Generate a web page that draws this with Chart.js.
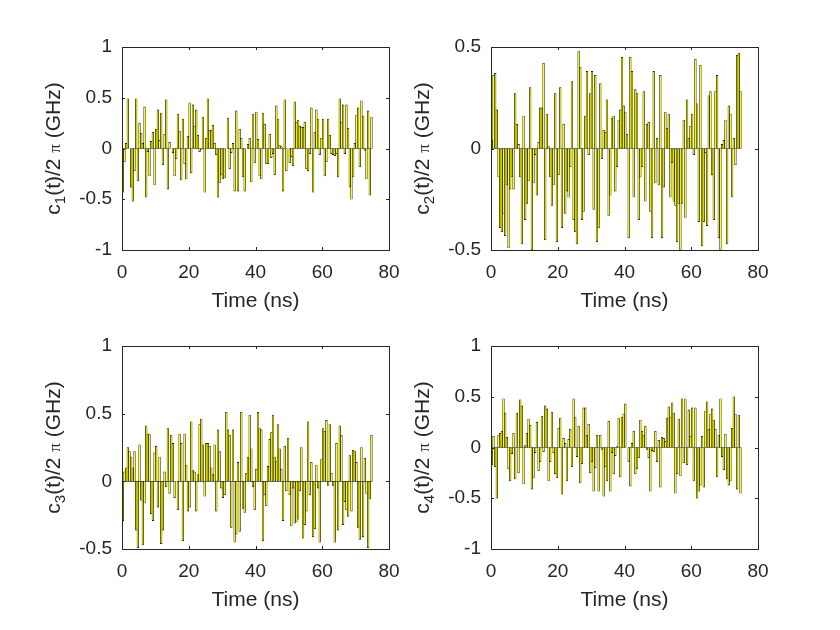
<!DOCTYPE html>
<html>
<head>
<meta charset="utf-8">
<script src="https://cdn.jsdelivr.net/npm/chart.js@4.4.0/dist/chart.umd.min.js"></script>
<style>
  html, body { margin: 0; padding: 0; background: #fff; }
  #wrap { position: relative; width: 840px; height: 630px; }
  #wrap canvas { position: absolute; left: 0; top: 0; }
</style>
</head>
<body>
<div id="wrap">
  <canvas id="c1" width="840" height="630"></canvas>
  <canvas id="c2" width="840" height="630"></canvas>
  <canvas id="c3" width="840" height="630"></canvas>
  <canvas id="c4" width="840" height="630"></canvas>
</div>
<script>
// control amplitudes c_k(t)/2pi in GHz, one value per 0.5 ns step
const dt = 0.5;
const xTicks = [0, 20, 40, 60, 80];
const yTicks1 = [-1, -0.5, 0, 0.5, 1];
const yTicks2 = [-0.5, 0, 0.5];
const yTicks3 = [-0.5, 0, 0.5, 1];
const yTicks4 = [-1, -0.5, 0, 0.5, 1];

const c1 = [
  -0.43,-0.13,0.05,0.49,0.0,-0.38,-0.52,-0.22,0.49,-0.32,
  0.25,0.15,0.05,0.41,-0.48,-0.03,-0.27,0.07,0.16,-0.36,
  0.19,0.38,0.08,0.35,-0.16,0.14,0.48,-0.4,0.06,0.0,
  -0.04,-0.27,-0.1,0.34,0.17,-0.31,0.29,-0.15,-0.3,0.12,
  0.45,-0.24,0.43,0.22,0.38,0.13,-0.03,-0.01,0.31,-0.43,
  0.1,0.49,0.18,0.18,0.23,0.05,-0.06,-0.48,-0.34,-0.26,
  -0.3,-0.29,0.0,0.3,-0.2,-0.04,0.05,-0.42,0.37,-0.42,
  0.19,0.1,-0.28,-0.42,0.0,0.04,0.1,-0.33,0.34,-0.14,
  0.36,0.09,-0.27,-0.3,0.35,0.24,-0.15,-0.15,0.14,-0.09,
  -0.05,-0.26,0.42,0.29,0.03,0.02,-0.42,0.48,-0.22,0.0,
  -0.14,-0.08,-0.17,0.46,0.26,0.28,0.22,0.21,0.21,0.26,
  -0.2,-0.22,-0.05,0.4,-0.43,0.16,0.38,0.29,-0.06,0.1,
  0.29,-0.27,-0.13,0.29,0.13,-0.05,-0.06,-0.07,-0.05,-0.28,
  0.49,0.26,0.43,-0.05,0.43,0.2,-0.38,-0.5,-0.28,0.05,
  0.33,0.4,-0.18,0.47,0.32,-0.02,-0.3,0.37,-0.46,0.31
];
const c2 = [
  0.04,0.36,0.37,0.19,-0.14,-0.39,-0.41,-0.32,-0.43,-0.18,
  -0.49,-0.2,-0.14,-0.2,0.27,0.12,0.02,-0.14,-0.47,0.16,
  -0.35,-0.27,-0.16,0.3,-0.5,-0.17,-0.03,-0.23,0.03,0.2,
  0.2,0.42,-0.45,0.17,0.01,-0.14,-0.28,-0.18,0.27,-0.46,
  -0.13,0.3,-0.39,0.12,-0.32,-0.21,-0.24,-0.09,0.33,-0.35,
  -0.41,-0.47,0.48,0.4,-0.35,-0.31,0.16,0.38,-0.03,0.27,
  0.38,-0.3,0.36,-0.46,-0.39,0.32,-0.05,0.09,0.08,0.24,
  -0.33,-0.23,0.15,0.16,-0.21,-0.09,0.14,0.19,0.45,0.21,
  0.18,0.07,-0.44,0.45,0.38,-0.24,0.29,0.27,-0.35,-0.14,
  -0.09,0.28,-0.26,0.12,0.13,-0.31,-0.44,0.38,-0.17,0.05,
  -0.18,0.36,-0.44,-0.19,0.18,0.1,0.17,-0.24,-0.07,-0.26,
  -0.28,-0.46,-0.27,-0.5,-0.27,0.14,-0.34,0.24,0.05,0.11,
  0.17,-0.03,0.44,0.22,-0.36,0.41,-0.48,-0.36,-0.02,-0.38,
  0.26,0.28,-0.13,-0.35,0.28,0.36,-0.44,-0.5,0.02,0.04,
  0.14,-0.47,0.21,0.17,-0.24,0.05,-0.08,0.46,0.47,0.28
];
const c3 = [
  -0.29,0.07,0.1,0.25,0.22,0.18,0.1,0.22,-0.36,-0.49,
  0.27,-0.14,-0.47,-0.16,0.41,0.35,0.35,-0.24,-0.29,0.21,
  0.26,-0.19,0.18,-0.46,-0.36,0.07,-0.04,0.39,-0.09,0.34,
  0.28,-0.12,0.0,-0.21,0.35,0.28,-0.44,0.35,0.12,-0.22,
  -0.19,0.44,0.08,0.07,-0.22,0.05,0.42,0.46,0.27,-0.11,
  0.28,0.28,0.26,0.1,0.05,0.27,-0.22,0.38,0.22,-0.05,
  -0.12,-0.1,0.51,0.38,0.34,-0.34,0.38,-0.45,-0.39,0.14,
  -0.37,0.51,-0.2,-0.23,0.06,0.18,0.49,0.24,-0.04,-0.21,
  0.09,0.51,0.39,0.38,-0.44,-0.1,-0.18,0.11,0.31,0.36,
  0.49,0.18,0.15,0.42,0.24,0.09,-0.29,0.26,-0.07,0.32,
  -0.1,-0.33,-0.05,-0.31,-0.3,-0.28,-0.07,0.25,-0.42,-0.32,
  -0.22,0.44,-0.1,0.14,-0.41,-0.35,0.12,-0.05,-0.45,0.16,
  0.39,0.37,0.45,-0.03,0.42,0.06,-0.03,-0.45,0.28,-0.36,
  0.41,0.34,-0.32,-0.15,-0.21,-0.26,0.19,-0.22,0.23,0.22,
  0.14,-0.34,-0.43,0.25,-0.41,0.17,-0.09,-0.49,-0.13,0.34
];
const c4 = [
  -0.17,0.11,-0.19,-0.5,0.12,0.14,0.16,0.48,0.34,0.1,
  -0.21,-0.33,-0.06,0.14,-0.31,0.34,-0.25,0.47,0.41,-0.36,
  0.02,0.14,0.28,0.22,-0.41,-0.3,-0.05,0.25,-0.23,-0.14,
  0.31,-0.04,0.41,0.38,-0.33,-0.14,0.35,-0.05,-0.26,-0.3,
  0.19,0.29,-0.46,0.09,0.04,-0.33,0.08,0.18,-0.19,0.48,
  0.3,-0.09,0.21,-0.35,-0.16,0.39,0.39,0.12,0.23,-0.25,
  -0.14,-0.43,-0.2,0.12,-0.43,0.12,-0.02,-0.48,-0.19,-0.33,
  0.26,-0.43,-0.05,-0.26,-0.08,0.01,0.29,-0.29,0.3,0.33,
  0.43,0.0,-0.14,-0.38,0.04,0.16,-0.26,-0.21,-0.1,0.27,
  0.16,0.12,0.21,-0.02,-0.1,-0.43,-0.03,-0.04,0.16,-0.14,
  0.07,-0.39,0.1,0.09,0.06,0.29,0.4,0.3,0.44,0.34,
  -0.45,-0.26,0.28,-0.28,0.48,-0.15,0.48,-0.17,0.37,0.11,
  0.39,-0.33,0.39,-0.5,-0.43,-0.37,0.11,-0.39,0.36,0.45,
  0.18,0.33,0.38,0.27,0.18,-0.29,0.12,0.48,-0.09,-0.22,
  0.13,-0.31,-0.37,-0.33,0.19,0.5,0.33,-0.41,0.32,-0.45
];
const time = c1.map((v, i) => (i + 0.5) * dt);

const SANS = "'Liberation Sans', Arial, Helvetica, sans-serif";
const SERIF = "'Liberation Serif', 'DejaVu Serif', serif";
const INK = '#262626';
const YW = 60, XH = 60;

Chart.defaults.font.family = SANS;
Chart.defaults.color = INK;

function drawYTitle(ctx, x, y, sub) {
  const parts = [
    { t: 'c', f: '21px ' + SANS, dy: 0 },
    { t: sub, f: '15px ' + SANS, dy: 5 },
    { t: '(t)/2 ', f: '21px ' + SANS, dy: 0 },
    { t: '\u03c0', f: '17px ' + SERIF, dy: 0 },
    { t: ' (GHz)', f: '21px ' + SANS, dy: 0 }
  ];
  let total = 0;
  parts.forEach(p => { ctx.font = p.f; p.w = ctx.measureText(p.t).width; total += p.w; });
  ctx.save();
  ctx.translate(x, y);
  ctx.rotate(-Math.PI / 2);
  ctx.textAlign = 'left';
  ctx.textBaseline = 'alphabetic';
  let cx = -total / 2;
  parts.forEach(p => { ctx.font = p.f; ctx.fillText(p.t, cx, p.dy); cx += p.w; });
  ctx.restore();
}

const framePlugin = {
  id: 'subplotFrame',
  afterDraw(chart, args, opts) {
    const { ctx, chartArea: a, scales } = chart;
    ctx.save();
    ctx.strokeStyle = INK;
    ctx.lineWidth = 1;
    ctx.strokeRect(a.left + 0.5, a.top + 0.5, a.right - a.left, a.bottom - a.top);
    const tl = 3;
    ctx.beginPath();
    xTicks.forEach(v => {
      const x = Math.round(scales.x.getPixelForValue(v)) + 0.5;
      ctx.moveTo(x, a.bottom); ctx.lineTo(x, a.bottom - tl);
      ctx.moveTo(x, a.top); ctx.lineTo(x, a.top + tl);
    });
    opts.yTicks.forEach(v => {
      const y = Math.round(scales.y.getPixelForValue(v)) + 0.5;
      ctx.moveTo(a.left, y); ctx.lineTo(a.left + tl, y);
      ctx.moveTo(a.right, y); ctx.lineTo(a.right - tl, y);
    });
    ctx.stroke();
    ctx.fillStyle = INK;
    ctx.font = '21px ' + SANS;
    ctx.textAlign = 'center';
    ctx.textBaseline = 'middle';
    ctx.fillText('Time (ns)', (a.left + a.right) / 2, a.bottom + 51);
    drawYTitle(ctx, a.left - 62, (a.top + a.bottom) / 2, opts.sub);
    ctx.restore();
  }
};

function makeChart(id, values, yTicks, box, sub) {
  return new Chart(document.getElementById(id), {
    type: 'bar',
    data: {
      datasets: [{
        data: values.map((v, i) => ({ x: time[i], y: v })),
        backgroundColor: '#ffff00',
        borderColor: '#000000',
        borderWidth: 0.6,
        borderSkipped: false,
        barPercentage: 1,
        categoryPercentage: 1
      }]
    },
    options: {
      responsive: false,
      animation: false,
      events: [],
      locale: 'en-US',
      layout: {
        padding: { left: box.l - YW, top: box.t, right: 840 - box.r, bottom: 630 - box.b - XH }
      },
      plugins: {
        legend: { display: false },
        tooltip: { enabled: false },
        subplotFrame: { yTicks: yTicks, sub: sub }
      },
      scales: {
        x: {
          type: 'linear',
          offset: false,
          min: xTicks[0],
          max: xTicks[xTicks.length - 1],
          afterBuildTicks: s => { s.ticks = xTicks.map(v => ({ value: v })); },
          afterFit: s => { s.height = XH; },
          grid: { display: false, drawTicks: false },
          border: { display: false },
          ticks: { color: INK, font: { size: 19 }, padding: 11, maxRotation: 0, autoSkip: false,
                   callback: v => String(v) }
        },
        y: {
          min: yTicks[0],
          max: yTicks[yTicks.length - 1],
          afterBuildTicks: s => { s.ticks = yTicks.map(v => ({ value: v })); },
          afterFit: s => { s.width = YW; },
          grid: { display: false, drawTicks: false },
          border: { display: false },
          ticks: { color: INK, font: { size: 19 }, padding: 10, autoSkip: false,
                   callback: v => String(v) }
        }
      }
    },
    plugins: [framePlugin]
  });
}

makeChart('c1', c1, yTicks1, { l: 122, t: 47, r: 389, b: 250 }, '1');
makeChart('c2', c2, yTicks2, { l: 491, t: 47, r: 758, b: 250 }, '2');
makeChart('c3', c3, yTicks3, { l: 122, t: 346, r: 389, b: 549 }, '3');
makeChart('c4', c4, yTicks4, { l: 491, t: 346, r: 758, b: 549 }, '4');
</script>
</body>
</html>
